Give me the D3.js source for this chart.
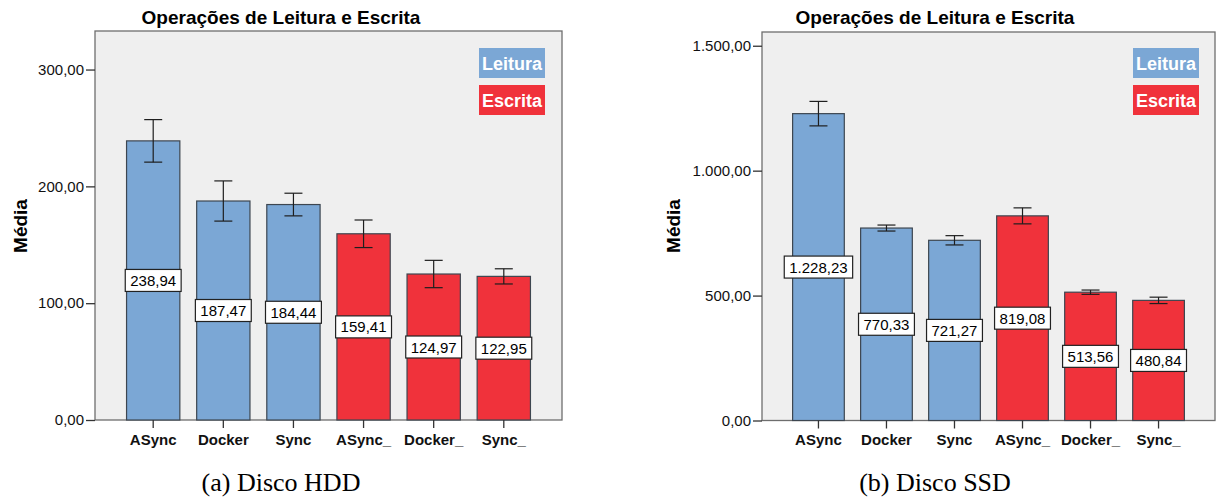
<!DOCTYPE html>
<html>
<head>
<meta charset="utf-8">
<script src="https://cdn.jsdelivr.net/npm/d3@7"></script>
<style>
  html, body { margin: 0; padding: 0; background: #fff; }
  svg { display: block; }
</style>
</head>
<body>
<svg id="chart" width="1218" height="501"></svg>
<script>
// ---------- DATA ----------
const categories = ["ASync", "Docker", "Sync", "ASync_", "Docker_", "Sync_"];
const groups = ["Leitura", "Leitura", "Leitura", "Escrita", "Escrita", "Escrita"];
const legendLabels = ["Leitura", "Escrita"];

const hddMeans = [238.94, 187.47, 184.44, 159.41, 124.97, 122.95];
const hddErrors = [18.2, 17.2, 9.7, 11.8, 11.7, 6.5];
const hddTicks = [0, 100, 200, 300];

const ssdMeans = [1228.23, 770.33, 721.27, 819.08, 513.56, 480.84];
const ssdErrors = [49, 12, 18.6, 32, 8.6, 12.8];
const ssdTicks = [0, 500, 1000, 1500];

const chartTitle = "Operações de Leitura e Escrita";
const yTitle = "Média";
const captions = ["(a) Disco HDD", "(b) Disco SSD"];

// ---------- STYLE ----------
const colors = { "Leitura": "#7ba7d5", "Escrita": "#f0323b" };
const ptBR = d3.formatLocale({ decimal: ",", thousands: ".", grouping: [3], currency: ["", ""] });
const fmt = ptBR.format(",.2f");

const svg = d3.select("#chart");

function drawPanel(cfg) {
  const { x0, x1, y0, y1, ymax, means, errors, ticks, center, yTitleX, legendX, caption } = cfg;
  const g = svg.append("g");

  const x = d3.scaleBand().domain(categories).range([x0, x1]).paddingInner(0.24).paddingOuter(0.45);
  const y = d3.scaleLinear().domain([0, ymax]).range([y1, y0]);

  // plot background
  g.append("rect").attr("x", x0).attr("y", y0).attr("width", x1 - x0).attr("height", y1 - y0)
    .attr("fill", "#efefef").attr("stroke", "#6e6e6e").attr("stroke-width", 1.3);

  // bars
  g.selectAll(".bar").data(categories).enter().append("rect")
    .attr("x", d => x(d))
    .attr("y", (d, i) => y(means[i]))
    .attr("width", x.bandwidth())
    .attr("height", (d, i) => y(0) - y(means[i]))
    .attr("fill", (d, i) => colors[groups[i]])
    .attr("stroke", "#3d4650").attr("stroke-width", 1.2);

  // error bars
  const cap = 9;
  categories.forEach((c, i) => {
    const cx = x(c) + x.bandwidth() / 2;
    const hi = y(means[i] + errors[i]), lo = y(means[i] - errors[i]);
    const eb = g.append("g").attr("stroke", "#1e1e1e").attr("stroke-width", 1.2);
    eb.append("line").attr("x1", cx).attr("x2", cx).attr("y1", hi).attr("y2", lo);
    eb.append("line").attr("x1", cx - cap).attr("x2", cx + cap).attr("y1", hi).attr("y2", hi);
    eb.append("line").attr("x1", cx - cap).attr("x2", cx + cap).attr("y1", lo).attr("y2", lo);
  });

  // value labels
  categories.forEach((c, i) => {
    const cx = x(c) + x.bandwidth() / 2;
    const cy = y(means[i] / 2);
    const lg = g.append("g");
    const t = lg.append("text").attr("x", cx).attr("y", cy + 5.5)
      .attr("text-anchor", "middle")
      .attr("font-family", "Liberation Sans, Arial, sans-serif")
      .attr("font-size", 15).attr("fill", "#000")
      .text(fmt(means[i]));
    const w = t.node().getComputedTextLength() + 10;
    lg.insert("rect", "text").attr("x", cx - w / 2).attr("y", cy - 11).attr("width", w).attr("height", 22)
      .attr("fill", "#fff").attr("stroke", "#222").attr("stroke-width", 1.2);
  });

  // y axis
  const yAxis = d3.axisLeft(y).tickValues(ticks).tickSize(9).tickPadding(2).tickFormat(fmt);
  const ya = g.append("g").attr("transform", `translate(${x0},0)`).call(yAxis);
  ya.select(".domain").remove();
  ya.selectAll(".tick line").attr("stroke", "#333").attr("stroke-width", 1.3);
  ya.selectAll(".tick text").attr("font-family", "Liberation Sans, Arial, sans-serif")
    .attr("font-size", 15).attr("fill", "#111");

  // x axis
  const xAxis = d3.axisBottom(x).tickSize(8).tickPadding(6);
  const xa = g.append("g").attr("transform", `translate(0,${y1})`).call(xAxis);
  xa.select(".domain").remove();
  xa.selectAll(".tick line").attr("stroke", "#333").attr("stroke-width", 1.3);
  xa.selectAll(".tick text").attr("font-family", "Liberation Sans, Arial, sans-serif")
    .attr("font-size", 15).attr("font-weight", "bold").attr("fill", "#111");

  // title
  g.append("text").attr("x", center).attr("y", 24).attr("text-anchor", "middle")
    .attr("font-family", "Liberation Sans, Arial, sans-serif").attr("font-size", 19)
    .attr("font-weight", "bold").attr("fill", "#000").text(chartTitle);

  // y title
  g.append("text").attr("transform", `translate(${yTitleX},${226}) rotate(-90)`)
    .attr("text-anchor", "middle")
    .attr("font-family", "Liberation Sans, Arial, sans-serif").attr("font-size", 19)
    .attr("font-weight", "bold").attr("fill", "#000").text(yTitle);

  // legend
  legendLabels.forEach((l, i) => {
    const ly = 48 + i * 37;
    g.append("rect").attr("x", legendX).attr("y", ly).attr("width", 66).attr("height", 30)
      .attr("fill", colors[l]);
    g.append("text").attr("x", legendX + 33).attr("y", ly + 22).attr("text-anchor", "middle")
      .attr("font-family", "Liberation Sans, Arial, sans-serif").attr("font-size", 18)
      .attr("font-weight", "bold").attr("fill", "#fff").text(l);
  });

  // caption
  g.append("text").attr("x", center).attr("y", 491).attr("text-anchor", "middle")
    .attr("font-family", "Liberation Serif, Times New Roman, serif").attr("font-size", 26)
    .attr("fill", "#000").text(caption);
}

drawPanel({
  x0: 95, x1: 562, y0: 31, y1: 420, ymax: 333,
  means: hddMeans, errors: hddErrors, ticks: hddTicks,
  center: 281, yTitleX: 27, legendX: 479, caption: captions[0]
});

drawPanel({
  x0: 762, x1: 1215, y0: 32, y1: 420.5, ymax: 1555,
  means: ssdMeans, errors: ssdErrors, ticks: ssdTicks,
  center: 935, yTitleX: 680, legendX: 1133, caption: captions[1]
});
</script>
</body>
</html>
